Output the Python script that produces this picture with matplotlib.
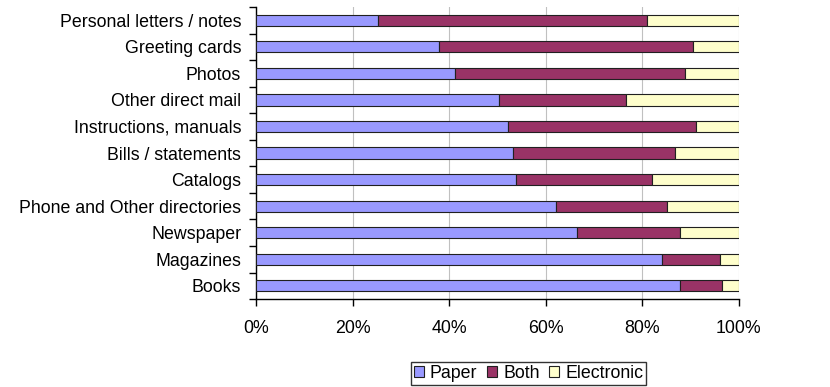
import matplotlib.pyplot as plt
import numpy as np

# 上から順のカテゴリ
categories = ["Personal letters / notes", "Greeting cards", "Photos",
              "Other direct mail", "Instructions, manuals", "Bills / statements",
              "Catalogs", "Phone and Other directories", "Newspaper",
              "Magazines", "Books"]
paper = [25.2, 37.8, 41.1, 50.2, 52.1, 53.3, 53.9, 62.2, 66.4, 84.0, 87.8]
both = [55.8, 52.7, 47.8, 26.4, 39.1, 33.4, 28.2, 22.9, 21.4, 12.1, 8.7]
electronic = [100 - p - b for p, b in zip(paper, both)]

series_names = ["Paper", "Both", "Electronic"]
colors = ["#9999FF", "#993366", "#FFFFCC"]
xticks = [0, 20, 40, 60, 80, 100]

plt.rcParams['font.family'] = ['Liberation Sans', 'DejaVu Sans']
fs = 12.8

fig = plt.figure(figsize=(8.3, 3.87), dpi=100)
ax = fig.add_axes([0.309, 0.227, 0.581, 0.755])

y = np.arange(len(categories))
left = np.zeros(len(categories))
for vals, name, c in zip([paper, both, electronic], series_names, colors):
    ax.barh(y, vals, left=left, height=0.42, color=c, edgecolor="#202020",
            linewidth=0.8, label=name, zorder=3)
    left = left + np.array(vals)

ax.set_ylim(len(categories) - 0.5, -0.5)
ax.set_xlim(0, 100)
ax.set_yticks(y)
ax.set_yticklabels(categories, fontsize=fs)
ax.set_yticks(np.arange(len(categories) + 1) - 0.5, minor=True)
ax.tick_params(axis="y", which="major", length=0, pad=11)
ax.tick_params(axis="y", which="minor", length=5, width=1)
ax.set_xticks(xticks)
ax.set_xticklabels(["{0}%".format(t) for t in xticks], fontsize=fs)
ax.tick_params(axis="x", length=5, width=1, pad=10)

ax.grid(axis="x", color="#c0c0c0", linewidth=0.8, zorder=0)
ax.spines["top"].set_visible(False)
ax.spines["right"].set_visible(False)
ax.spines["left"].set_linewidth(1)
ax.spines["bottom"].set_linewidth(1)

fig.legend(loc="center", bbox_to_anchor=(0.637, 0.035), ncol=3, fontsize=fs,
           frameon=True, fancybox=False, edgecolor="black", handlelength=0.55,
           handleheight=0.55, handletextpad=0.35, columnspacing=0.55,
           borderpad=0.15)

plt.savefig("out.png", dpi=100)
